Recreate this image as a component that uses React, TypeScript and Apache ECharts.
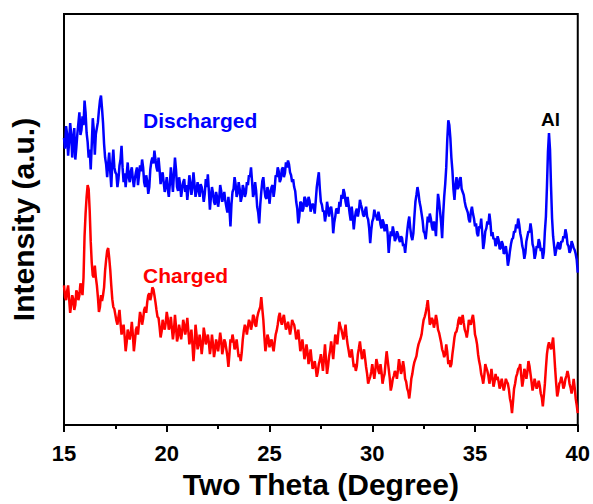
import React, { useEffect, useRef } from "react";
import * as echarts from "echarts";

// Scan grid: 2θ from 15° to 40° in 0.05° steps
const START_ANGLE = 15;
const STEP_ANGLE = 0.05;

// Intensity (a.u.), discharged electrode (offset trace); one row per degree
const discharged = [
  292, 281, 304, 296, 274, 288, 307, 296, 272, 290, 302, 270, 282, 296, 307, 318, 295, 300, 314, 305,
  330, 318, 297, 288, 272, 280, 260, 285, 312, 300, 275, 296, 302, 308, 320, 330, 335, 322, 307, 286,
  272, 265, 252, 266, 277, 258, 242, 266, 280, 262, 257, 255, 242, 250, 264, 270, 284, 262, 247, 256,
  242, 255, 267, 252, 247, 258, 262, 250, 242, 251, 257, 262, 244, 254, 264, 258, 270, 262, 247, 242,
  254, 248, 235, 242, 260, 268, 272, 266, 279, 270, 262, 258, 272, 260, 245, 252, 257, 247, 237, 244,
  252, 240, 232, 245, 262, 250, 237, 255, 272, 260, 242, 238, 252, 245, 232, 240, 247, 250, 237, 244,
  229, 240, 254, 246, 234, 242, 257, 245, 232, 238, 247, 240, 232, 245, 242, 236, 227, 235, 250, 242,
  255, 238, 219, 232, 242, 236, 227, 224, 237, 232, 222, 230, 244, 238, 227, 232, 237, 228, 222, 216,
  232, 220, 202, 225, 237, 240, 252, 245, 232, 236, 247, 240, 227, 232, 244, 240, 232, 236, 247, 244,
  254, 252, 262, 248, 232, 236, 247, 238, 222, 216, 205, 224, 237, 248, 252, 240, 232, 230, 242, 238,
  225, 236, 242, 244, 232, 240, 254, 252, 262, 258, 247, 250, 260, 262, 252, 256, 267, 262, 269, 265,
  257, 254, 247, 250, 242, 238, 227, 220, 205, 212, 227, 226, 217, 220, 232, 230, 222, 224, 232, 228,
  217, 222, 225, 222, 215, 228, 242, 250, 257, 240, 227, 224, 217, 218, 207, 214, 227, 220, 212, 220,
  222, 214, 195, 206, 212, 220, 219, 215, 227, 222, 234, 230, 240, 236, 227, 222, 232, 224, 215, 208,
  222, 212, 199, 210, 217, 220, 212, 218, 229, 224, 220, 214, 212, 218, 222, 212, 209, 200, 185, 198,
  207, 210, 219, 214, 212, 208, 217, 212, 204, 200, 209, 206, 197, 202, 204, 194, 175, 188, 197, 192,
  202, 196, 187, 190, 197, 194, 189, 186, 192, 190, 182, 184, 175, 186, 197, 206, 212, 200, 192, 188,
  195, 212, 227, 234, 242, 236, 227, 222, 215, 208, 197, 195, 189, 200, 212, 206, 215, 210, 202, 198,
  207, 202, 192, 215, 235, 228, 217, 206, 190, 214, 232, 245, 262, 290, 310, 305, 292, 272, 259, 240,
  229, 244, 252, 240, 242, 250, 252, 240, 237, 234, 227, 222, 219, 216, 209, 206, 217, 222, 215, 210,
  202, 205, 195, 192, 202, 200, 210, 196, 179, 186, 197, 200, 207, 204, 215, 206, 192, 196, 189, 190,
  182, 185, 192, 188, 179, 180, 187, 184, 174, 176, 182, 174, 162, 168, 177, 184, 189, 190, 197, 196,
  204, 200, 210, 204, 195, 190, 182, 178, 169, 175, 187, 192, 197, 196, 205, 198, 184, 180, 169, 174,
  182, 180, 189, 185, 177, 180, 169, 176, 197, 212, 242, 278, 297, 280, 242, 210, 192, 182, 172, 178,
  182, 186, 179, 180, 187, 186, 192, 190, 199, 194, 184, 182, 175, 178, 187, 184, 180, 178, 174, 168,
  155,
];

// Intensity (a.u.), charged electrode; one row per degree
const charged = [
  142, 130, 127, 136, 142, 128, 114, 122, 132, 128, 117, 122, 137, 134, 127, 132, 144, 140, 132, 150,
  192, 215, 232, 244, 240, 218, 187, 165, 152, 150, 162, 150, 142, 130, 115, 120, 132, 126, 132, 140,
  157, 168, 177, 180, 170, 158, 142, 128, 120, 118, 112, 106, 102, 110, 117, 104, 92, 98, 102, 90,
  75, 84, 97, 92, 87, 94, 105, 92, 75, 85, 97, 100, 92, 104, 115, 110, 102, 108, 117, 120,
  114, 125, 132, 134, 127, 132, 140, 138, 132, 125, 117, 110, 109, 100, 89, 95, 107, 102, 97, 104,
  115, 108, 97, 100, 110, 98, 87, 96, 112, 100, 85, 90, 102, 96, 87, 95, 107, 102, 92, 98,
  109, 96, 82, 88, 97, 82, 65, 80, 102, 92, 77, 82, 92, 84, 72, 82, 99, 92, 82, 86,
  92, 84, 72, 80, 92, 82, 69, 76, 87, 82, 75, 84, 94, 86, 72, 78, 87, 84, 77, 70,
  59, 72, 87, 84, 92, 86, 77, 80, 87, 78, 69, 72, 65, 74, 87, 96, 102, 98, 92, 100,
  107, 104, 97, 102, 112, 110, 102, 100, 109, 114, 117, 120, 130, 118, 107, 90, 75, 82, 92, 88,
  79, 84, 87, 80, 75, 84, 92, 96, 102, 110, 114, 106, 102, 108, 112, 104, 97, 100, 105, 99,
  92, 98, 107, 104, 102, 96, 87, 90, 97, 86, 75, 80, 87, 78, 67, 72, 82, 74, 62, 68,
  77, 66, 57, 60, 65, 58, 49, 54, 62, 66, 72, 64, 55, 68, 82, 66, 52, 60, 70, 76,
  85, 76, 67, 80, 92, 88, 82, 94, 105, 100, 97, 92, 87, 94, 102, 90, 82, 76, 69, 70,
  77, 68, 59, 62, 55, 60, 72, 78, 85, 76, 67, 70, 77, 68, 59, 52, 42, 46, 49, 54,
  62, 54, 47, 56, 67, 62, 55, 52, 62, 54, 42, 48, 52, 64, 75, 66, 57, 48, 35, 40,
  47, 50, 55, 52, 47, 56, 67, 60, 52, 56, 65, 58, 47, 44, 37, 34, 27, 36, 47, 52,
  59, 64, 67, 70, 77, 82, 85, 88, 92, 100, 107, 110, 114, 120, 127, 116, 102, 104, 109, 106,
  99, 104, 112, 106, 97, 94, 89, 84, 77, 74, 69, 72, 82, 74, 62, 66, 59, 62, 72, 80,
  89, 94, 95, 100, 107, 110, 102, 106, 112, 104, 97, 94, 89, 96, 107, 104, 102, 108, 112, 104,
  92, 88, 82, 72, 65, 60, 52, 48, 42, 50, 62, 58, 55, 50, 42, 48, 57, 48, 39, 44,
  52, 46, 49, 44, 37, 42, 47, 40, 35, 40, 47, 44, 42, 36, 27, 22, 12, 24, 37, 42,
  49, 52, 57, 58, 62, 50, 39, 46, 57, 54, 47, 54, 65, 60, 52, 44, 35, 40, 47, 42,
  37, 40, 45, 40, 32, 28, 19, 30, 42, 58, 72, 80, 84, 80, 77, 82, 89, 74, 57, 42,
  29, 34, 42, 44, 49, 44, 37, 40, 47, 50, 55, 50, 42, 38, 32, 38, 47, 38, 27, 20,
  12,
];

const xTicks = [15, 20, 25, 30, 35, 40];

const FONT = "Arial, 'Liberation Sans', Helvetica, sans-serif";

function toPairs(values: number[]) {
  return values.map((v, i) => [
    Math.round((START_ANGLE + i * STEP_ANGLE) * 100) / 100,
    v,
  ]);
}

export default function App() {
  const ref = useRef<HTMLDivElement>(null);

  useEffect(() => {
    if (!ref.current) return;
    const chart = echarts.init(ref.current, null, { renderer: "svg" });
    chart.setOption({
      animation: false,
      backgroundColor: "#ffffff",
      grid: {
        left: 63,
        right: 15,
        top: 14,
        bottom: 72,
        show: true,
        borderColor: "#000",
        borderWidth: 2,
      },
      xAxis: {
        type: "value",
        min: xTicks[0],
        max: xTicks[xTicks.length - 1],
        interval: 5,
        name: "Two Theta (Degree)",
        nameLocation: "middle",
        nameGap: 44,
        nameTextStyle: {
          fontFamily: FONT,
          fontWeight: "bold",
          fontSize: 30,
          color: "#000",
        },
        axisLine: { show: true, onZero: false, lineStyle: { color: "#000", width: 2 } },
        axisTick: { show: true, length: 7, lineStyle: { color: "#000", width: 2 } },
        minorTick: { show: true, splitNumber: 2, length: 4, lineStyle: { color: "#000", width: 2 } },
        axisLabel: {
          fontFamily: FONT,
          fontWeight: "bold",
          fontSize: 22,
          color: "#000",
          margin: 17,
        },
        splitLine: { show: false },
      },
      yAxis: {
        type: "value",
        min: 0,
        max: 418,
        name: "Intensity (a.u.)",
        nameLocation: "middle",
        nameGap: 26,
        nameTextStyle: {
          fontFamily: FONT,
          fontWeight: "bold",
          fontSize: 30,
          color: "#000",
        },
        axisLine: { show: true, lineStyle: { color: "#000", width: 2 } },
        axisTick: { show: false },
        axisLabel: { show: false },
        splitLine: { show: false },
      },
      series: [
        {
          name: "Discharged",
          type: "line",
          data: toPairs(discharged),
          showSymbol: false,
          lineStyle: { color: "#0000ff", width: 2.5 },
          itemStyle: { color: "#0000ff" },
        },
        {
          name: "Charged",
          type: "line",
          data: toPairs(charged),
          showSymbol: false,
          lineStyle: { color: "#ff0000", width: 2.5 },
          itemStyle: { color: "#ff0000" },
        },
      ],
      graphic: [
        {
          type: "text",
          left: 143,
          top: 110,
          style: {
            text: "Discharged",
            fill: "#0000ff",
            font: `bold 21px ${FONT}`,
          },
        },
        {
          type: "text",
          left: 143,
          top: 265,
          style: {
            text: "Charged",
            fill: "#ff0000",
            font: `bold 21px ${FONT}`,
          },
        },
        {
          type: "text",
          left: 541,
          top: 110,
          style: {
            text: "Al",
            fill: "#000",
            font: `bold 19px ${FONT}`,
          },
        },
      ],
    });
    return () => chart.dispose();
  }, []);

  // Pinned to the page corner so the body margin does not shift the chart
  return (
    <div
      ref={ref}
      style={{ position: "absolute", left: 0, top: 0, width: 593, height: 504 }}
    />
  );
}
